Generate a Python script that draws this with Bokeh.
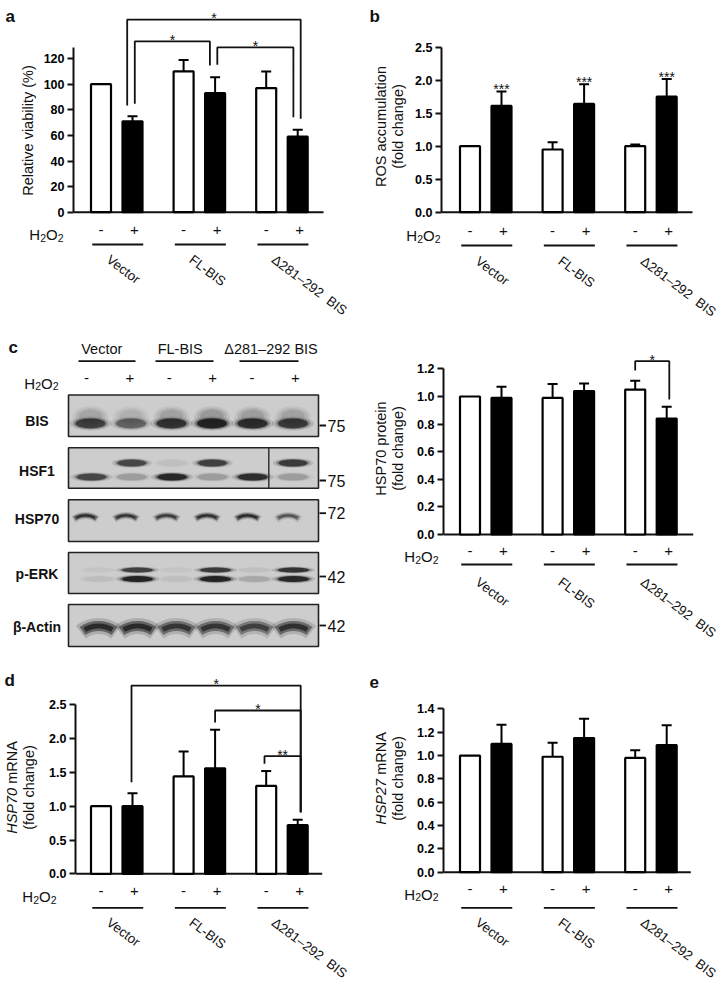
import math
from bokeh.plotting import figure
from bokeh.models import Range1d, FixedTicker, PrintfTickFormatter, Label
from bokeh.layouts import row, column
from bokeh.embed import file_html
from bokeh.resources import INLINE
from bokeh.core.properties import value

FONT = "Liberation Sans"
INK = "#111111"

# ---------------- data ----------------
GROUPS = ["Vector", "FL-BIS", "Δ281–292\u00a0 BIS"]
SIGNS = ["-", "+"]

VIAB = [100, 71, 110, 93, 97, 59]
VIAB_ERR = [0, 4, 9, 12.5, 13, 5.5]
# (bar i, bar j, bracket height, left end, right end, label)
VIAB_SIG = [(1, 5, 150.5, 83.4, 73.0, "*"),
            (1, 3, 133.4, 84.7, 114.6, "*"),
            (3, 5, 128.7, 115.2, 74.2, "*")]

ROS = [1.0, 1.61, 0.95, 1.64, 1.0, 1.75]
ROS_ERR = [0, 0.22, 0.11, 0.30, 0.025, 0.27]
ROS_MARK = ["", "***", "", "***", "", "***"]

HSP70_PROT = [1.0, 0.99, 0.99, 1.04, 1.05, 0.84]
HSP70_PROT_ERR = [0, 0.08, 0.10, 0.055, 0.065, 0.085]
HSP70_PROT_SIG = [(4, 5, 1.256, 1.188, 0.978, "*")]

HSP70_MRNA = [1.0, 1.0, 1.44, 1.56, 1.30, 0.72]
HSP70_MRNA_ERR = [0, 0.19, 0.37, 0.57, 0.22, 0.08]
HSP70_MRNA_SIG = [(1, 5, 2.785, 1.355, 0.91, "*"),
                  (3, 5, 2.416, 2.24, 0.91, "*"),
                  (4, 5, 1.74, 1.627, 0.91, "**")]

HSP27_MRNA = [1.0, 1.10, 0.99, 1.15, 0.98, 1.09]
HSP27_MRNA_ERR = [0, 0.165, 0.12, 0.165, 0.065, 0.17]

BLOT_ROWS = ["BIS", "HSF1", "HSP70", "p-ERK", "β-Actin"]
BLOT_MW = ["75", "75", "72", "42", "42"]
BIS_BAND = [0.75, 0.5, 0.85, 1.0, 0.9, 0.8]
HSF1_LOWER = [0.7, 0.2, 0.95, 0.2, 0.9, 0.2]
HSF1_UPPER = [0.0, 0.7, 0.05, 0.75, 0.0, 0.8]
HSP70_BAND = [0.9, 0.85, 0.8, 0.9, 0.95, 0.6]
PERK_UPPER = [0.03, 0.75, 0.03, 0.8, 0.05, 0.85]
PERK_LOWER = [0.06, 1.0, 0.05, 1.0, 0.15, 0.95]
ACTIN_BAND = [0.95, 0.95, 0.85, 0.85, 0.75, 0.9]

# ---------------- layout constants ----------------
STEP = 31.5      # px between the two bars of a group
STRIDE = 82.6    # px between groups
BAR_W = 20.0
CAP_HALF = 5.0
ROT = -math.radians(37)
ROT_SIZE = 13.4

CW = {"H": .722, "O": .778, "2": .556, "S": .667, "P": .667, "7": .556, "0": .556,
      "m": .833, "R": .722, "N": .722, "A": .667, " ": .278, "\u00a0": .278}


def text_w(s, size):
    return sum(CW.get(c, .556) for c in s) * size


def bar_x():
    return [g * STRIDE / STEP + t for g in range(len(GROUPS)) for t in range(len(SIGNS))]


def label(p, x, y, text, size, style="normal", align="left", baseline="alphabetic", angle=0.0):
    p.add_layout(Label(x=x, y=y, text=text, text_font=FONT, text_font_size=f"{size}px",
                       text_font_style=style, text_align=align, text_baseline=baseline,
                       angle=angle, text_color=INK))


def h2o2(p, vx, vy, right_px, yc_px):
    pieces = [("H", 15, 0.0), ("2", 10.5, 3.2), ("O", 15, 0.0), ("2", 10.5, 3.2)]
    total = sum(text_w(t, s) for t, s, _ in pieces)
    x = right_px - total
    base = yc_px + 0.716 * 15 / 2
    for t, s, dy in pieces:
        label(p, vx(x), vy(base + dy), t, s)
        x += text_w(t, s)


def plain_fig(L, T, R, B, xr=None):
    p = figure(width=int(round(R - L)), height=int(round(B - T)),
               x_range=xr if xr is not None else Range1d(L, R), y_range=Range1d(-B, -T),
               output_backend="svg", toolbar_location=None,
               x_axis_location=None, y_axis_location=None, min_border=0)
    p.outline_line_color = None
    p.grid.visible = False
    return p


def bar_panel(spec, means, errs, brackets=(), nudges=(), marks=None):
    L, T, R, B = spec["box"]
    ax, y0, ppu, c0 = spec["axis_x"], spec["y0"], spec["ppu"], spec["c0"]
    SR, SP = spec["strip_right"], spec["split"]

    def vx(px):
        return (px - c0) / STEP

    def vy(py):
        return (y0 - py) / ppu

    def py_(py):
        return -py

    # ---- main plot (bars + y axis) ----
    p = figure(width=R - SR, height=SP - T,
               x_range=Range1d(vx(ax), vx(R)), y_range=Range1d(vy(SP), vy(T)),
               output_backend="svg", toolbar_location=None,
               x_axis_location=None, y_axis_location="left",
               min_border_left=ax - SR, min_border_right=0, min_border_top=0, min_border_bottom=0)
    p.outline_line_color = None
    p.grid.visible = False

    ya = p.yaxis[0]
    ya.bounds = (0, spec["axis_top"])
    ya.ticker = FixedTicker(ticks=spec["ticks"])
    if spec.get("fmt"):
        ya.formatter = PrintfTickFormatter(format=spec["fmt"])
    ya.major_label_text_font = FONT
    ya.major_label_text_font_size = "12.5px"
    ya.major_label_text_font_style = "bold"
    ya.major_label_text_color = "black"
    ya.major_tick_in = 0
    ya.major_tick_out = 6
    ya.minor_tick_in = 0
    ya.minor_tick_out = 0
    ya.axis_line_width = 2
    ya.major_tick_line_width = 2
    ya.axis_line_color = INK
    ya.major_tick_line_color = INK
    ya.major_label_standoff = 3

    xs = bar_x()
    colors = ["white" if i % 2 == 0 else "black" for i in range(len(xs))]
    p.segment(x0=[vx(ax)], y0=[0], x1=[vx(spec["base_right"])], y1=[0], line_color=INK, line_width=2)
    p.vbar(x=xs, top=means, bottom=0, width=BAR_W / STEP, fill_color=colors,
           line_color="black", line_width=2.2)
    ex = [x for x, e in zip(xs, errs) if e > 0]
    em = [m for m, e in zip(means, errs) if e > 0]
    et = [m + e for m, e in zip(means, errs) if e > 0]
    p.segment(x0=ex, y0=em, x1=ex, y1=et, line_color="black", line_width=2)
    p.segment(x0=[x - CAP_HALF / STEP for x in ex], y0=et,
              x1=[x + CAP_HALF / STEP for x in ex], y1=et, line_color="black", line_width=2)

    bx, by, sx, sy, st = [], [], [], [], []
    for (i, j, top, le, re, lab), (dl, dr) in zip(brackets, nudges):
        xl = xs[i] + dl / STEP
        xr = xs[j] + dr / STEP
        bx.append([xl, xl, xr, xr])
        by.append([le, top, top, re])
        sx.append((xl + xr) / 2)
        sy.append(top + 1.5 / ppu)
        st.append(lab)
    if bx:
        p.multi_line(xs=bx, ys=by, line_color=INK, line_width=1.8)
        p.text(x=sx, y=sy, text=st, text_font=value(FONT), text_font_size="14px",
               text_align="center", text_baseline="alphabetic", text_color=INK)
    if marks:
        mx = [x for x, m in zip(xs, marks) if m]
        my = [mm + e + 2 / ppu for mm, e, m in zip(means, errs, marks) if m]
        mt = [m for m in marks if m]
        p.text(x=mx, y=my, text=mt, text_font=value(FONT), text_font_size="14px",
               text_align="center", text_baseline="alphabetic", text_color=INK)

    # ---- left strip: panel letter + axis title ----
    s = plain_fig(L, T, SR, SP)
    lx = spec["label_x"]
    yc = spec["label_yc"]
    for k, line in enumerate(spec["label_lines"]):
        if isinstance(line, tuple):
            it, rest = line
            w1 = text_w(it, 14.5)
            w2 = text_w(rest, 14.5)
            ya_px = yc + (w2 - w1) / 2
            s.add_layout(Label(x=lx[k], y=py_(ya_px), text=it, text_font=FONT,
                               text_font_size="14.5px", text_font_style="italic",
                               text_align="right", text_baseline="middle",
                               angle=math.pi / 2, text_color=INK))
            s.add_layout(Label(x=lx[k], y=py_(ya_px), text=rest, text_font=FONT,
                               text_font_size="14.5px", text_align="left", text_baseline="middle",
                               angle=math.pi / 2, text_color=INK))
        else:
            label(s, lx[k], py_(yc), line, 14.5, align="center", baseline="middle",
                  angle=math.pi / 2)
    if spec.get("letter"):
        ltr, lxp, lby = spec["letter"]
        label(s, lxp, py_(lby), ltr, 17, style="bold")

    # ---- bottom strip: H2O2 row + group labels ----
    b = plain_fig(L, SP, R, B, xr=Range1d(vx(L), vx(R)))
    ry = py_(spec["row_y"])
    b.text(x=xs, y=[ry] * len(xs), text=SIGNS * len(GROUPS),
           x_offset=[0 if i % 2 == 0 else 2 for i in range(len(xs))],
           text_font=value(FONT), text_font_size="15px", text_align="center",
           text_baseline="middle", text_color=INK)
    h2o2(b, vx, py_, spec["h2o2_right"], spec["row_y"])
    gc = [g * STRIDE / STEP + 0.5 for g in range(len(GROUPS))]
    uy = py_(spec["underline_y"])
    b.segment(x0=[g - 24.5 / STEP for g in gc], y0=[uy] * 3,
              x1=[g + 26.5 / STEP for g in gc], y1=[uy] * 3, line_color=INK, line_width=1.8)
    b.text(x=[g - 4 / STEP for g in gc], y=[py_(spec["underline_y"] + spec["label_dy"])] * 3,
           text=GROUPS, angle=ROT, text_font=value(FONT), text_font_size=f"{ROT_SIZE}px",
           text_align="left", text_baseline="top", text_color=INK)

    return column(row(s, p), b)


def soft_ellipse(p, xs, y, w, h, ints, layers=((1.4, 0.15), (1.17, 0.35), (1.0, 0.85))):
    for sc, k in layers:
        p.ellipse(x=xs, y=[y] * len(xs), width=w * sc, height=h * sc, fill_color="#141414",
                  fill_alpha=[min(1.0, a * k) for a in ints], line_color=None)


def soft_crescent(p, xs, apex_y, chord, sag, thick, ints):
    R = (chord ** 2 / 4 + sag ** 2) / (2 * sag)
    th = math.asin(chord / 2 / R)
    cy = apex_y - R
    for f, g, k in [(1.6, 1.12, 0.18), (1.0, 1.0, 0.5), (0.5, 0.85, 0.75)]:
        p.annular_wedge(x=xs, y=[cy] * len(xs), inner_radius=R - thick * f / 2,
                        outer_radius=R + thick * f / 2, start_angle=math.pi / 2 - th * g,
                        end_angle=math.pi / 2 + th * g, fill_color="#141414",
                        fill_alpha=[min(1.0, a * k) for a in ints], line_color=None)


def lanes(x0, step):
    return [x0 + step * i for i in range(6)]


def blot_panel():
    L, T, R, B = 0, 325, 362, 662
    p = plain_fig(L, T, R, B)

    def vx(px):
        return px

    def vy(py):
        return -py

    label(p, 8, vy(347), "c", 17, style="bold")
    hdr_x = [101.3, 179.7, 270.5]
    p.text(x=hdr_x, y=[vy(348.3)] * 3, text=[" ".join(g.split()) for g in GROUPS],
           text_font=value(FONT), text_font_size="14.5px", text_align="center",
           text_baseline="middle", text_color=INK)
    p.segment(x0=[78, 155, 239], y0=[vy(360.7)] * 3, x1=[135, 213, 298], y1=[vy(360.7)] * 3,
              line_color=INK, line_width=1.8)
    sx = lanes(86, 41.4)
    p.text(x=sx, y=[vy(377.3)] * 6, text=SIGNS * 3,
           x_offset=[0 if i % 2 == 0 else 2 for i in range(6)],
           text_font=value(FONT), text_font_size="15px", text_align="center",
           text_baseline="middle", text_color=INK)
    h2o2(p, vx, vy, 58, 377.3)

    boxes = [(394.5, 436), (447.3, 487.7), (499.3, 541), (552, 593), (604, 646)]
    p.quad(left=[68] * 5, right=[318] * 5, top=[vy(t) for t, b in boxes],
           bottom=[vy(b) for t, b in boxes], fill_color="#cdcdcd", line_color="#222222",
           line_width=1.6)
    # BIS: diffuse smear above a dense band
    soft_ellipse(p, lanes(90, 40.5), vy(416), 31, 18, [a * 0.5 for a in BIS_BAND],
                 layers=((1.15, 0.15), (0.95, 0.2), (0.75, 0.25)))
    soft_ellipse(p, lanes(90, 40.5), vy(423), 30, 10, BIS_BAND)
    soft_ellipse(p, lanes(91, 40.3), vy(476.5), 30, 7, HSF1_LOWER)
    soft_ellipse(p, lanes(91, 40.3), vy(462.5), 29, 7, HSF1_UPPER)
    p.segment(x0=[268.3], y0=[vy(447.3)], x1=[268.3], y1=[vy(487.7)], line_color="#333333",
              line_width=1.5)
    soft_crescent(p, lanes(85, 40.5), vy(515), 22, 3, 4.5, HSP70_BAND)
    soft_ellipse(p, lanes(98, 39), vy(569.5), 31, 5, PERK_UPPER)
    soft_ellipse(p, lanes(98, 39), vy(578.5), 31, 6, PERK_LOWER)
    soft_crescent(p, lanes(98, 39), vy(625.5), 32, 5, 10, ACTIN_BAND)

    row_y = [420.7, 470, 518.3, 573.3, 626.7]
    mw_y = [425, 480, 512.7, 576, 625]
    p.text(x=[36.5] * 5, y=[vy(y) for y in row_y], text=BLOT_ROWS, text_font=value(FONT),
           text_font_size="14px", text_font_style="bold", text_align="center",
           text_baseline="middle", text_color=INK)
    p.segment(x0=[319] * 5, y0=[vy(y) for y in mw_y], x1=[325.5] * 5, y1=[vy(y) for y in mw_y],
              line_color=INK, line_width=1.8)
    p.text(x=[327] * 5, y=[vy(y) for y in mw_y], text=BLOT_MW, text_font=value(FONT),
           text_font_size="16px", text_align="left", text_baseline="middle", text_color=INK)
    return p


SPEC_A = dict(box=(0, 0, 362, 325), axis_x=73, strip_right=38, split=220,
              y0=211.7, ppu=1.28, c0=100.5, axis_top=128.7,
              ticks=[0, 20, 40, 60, 80, 100, 120], fmt=None, base_right=323, h2o2_right=63,
              row_y=229, underline_y=244, label_dy=7.5, label_lines=["Relative viability (%)"],
              label_x=[27], label_yc=130, letter=("a", 5, 15.5))
SPEC_B = dict(box=(362, 0, 725, 325), axis_x=441, strip_right=409, split=220,
              y0=211.7, ppu=66, c0=469.5, axis_top=2.5,
              ticks=[0, 0.5, 1.0, 1.5, 2.0, 2.5], fmt="%.1f", base_right=692, h2o2_right=440,
              row_y=230, underline_y=245, label_dy=8,
              label_lines=["ROS accumulation", "(fold change)"],
              label_x=[380, 397], label_yc=126, letter=("b", 369, 15.5))
SPEC_C = dict(box=(362, 325, 725, 662), axis_x=443, strip_right=410, split=542,
              y0=534, ppu=138, c0=469.5, axis_top=1.2,
              ticks=[0, 0.2, 0.4, 0.6, 0.8, 1.0, 1.2], fmt="%.1f", base_right=692.7,
              h2o2_right=438, row_y=550.7, underline_y=564, label_dy=10,
              label_lines=["HSP70 protein", "(fold change)"], label_x=[380, 397], label_yc=448,
              letter=None)
SPEC_D = dict(box=(0, 662, 362, 981), axis_x=75, strip_right=40, split=881,
              y0=873.3, ppu=67.6, c0=100.5, axis_top=2.5,
              ticks=[0, 0.5, 1.0, 1.5, 2.0, 2.5], fmt="%.1f", base_right=321.7, h2o2_right=56,
              row_y=890.7, underline_y=907.3, label_dy=7,
              label_lines=[("HSP70", "\u00a0mRNA"), "(fold change)"], label_x=[11.5, 28],
              label_yc=787, letter=("d", 4, 680))
SPEC_E = dict(box=(362, 662, 725, 981), axis_x=443, strip_right=410, split=880,
              y0=871.7, ppu=116.6, c0=469.5, axis_top=1.4,
              ticks=[0, 0.2, 0.4, 0.6, 0.8, 1.0, 1.2, 1.4], fmt="%.1f", base_right=690.3,
              h2o2_right=438, row_y=888.3, underline_y=907.3, label_dy=7,
              label_lines=[("HSP27", "\u00a0mRNA"), "(fold change)"], label_x=[380.3, 397],
              label_yc=778, letter=("e", 369, 681.5))

pa = bar_panel(SPEC_A, VIAB, VIAB_ERR, VIAB_SIG, [(-5.3, 3), (2.3, -5.2), (2.2, -4.3)])
pb = bar_panel(SPEC_B, ROS, ROS_ERR, marks=ROS_MARK)
pc = bar_panel(SPEC_C, HSP70_PROT, HSP70_PROT_ERR, HSP70_PROT_SIG, [(0, 2.6)])
pd = bar_panel(SPEC_D, HSP70_MRNA, HSP70_MRNA_ERR, HSP70_MRNA_SIG, [(-1, 3), (0, 3), (-1.7, 3)])
pe = bar_panel(SPEC_E, HSP27_MRNA, HSP27_MRNA_ERR)
pblot = blot_panel()

layout = column(row(pa, pb), row(pblot, pc), row(pd, pe))
open("out.html", "w").write(file_html(layout, INLINE))
